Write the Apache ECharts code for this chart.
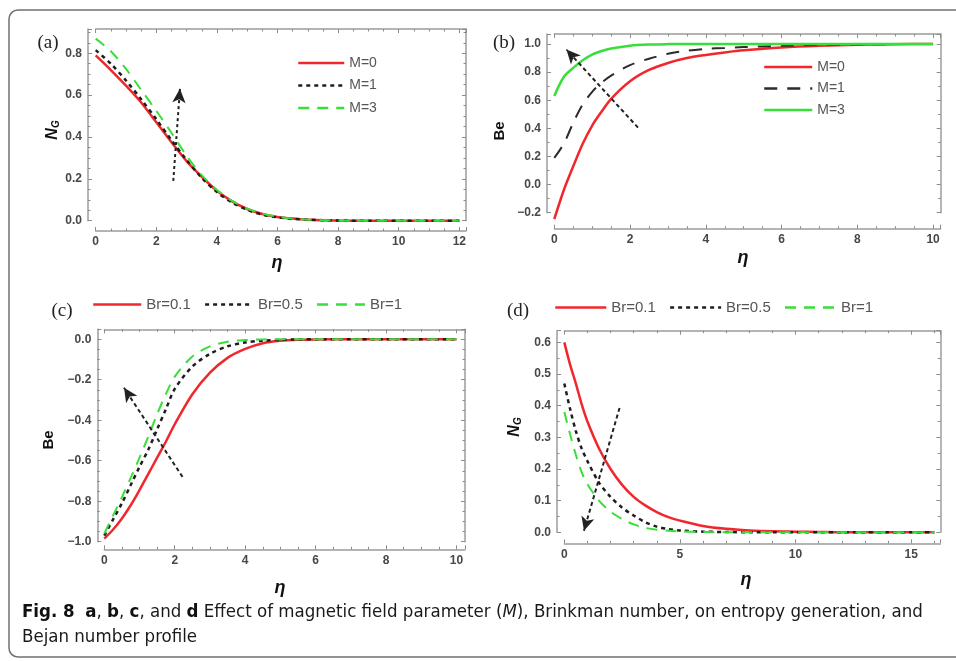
<!DOCTYPE html>
<html>
<head>
<meta charset="utf-8">
<script src="https://cdn.jsdelivr.net/npm/echarts@6/dist/echarts.min.js"></script>
<style>
html, body { margin: 0; padding: 0; background: #fff; }
#main { width: 956px; height: 661px; }
</style>
</head>
<body>
<div id="main"></div>
<script>
// ---- values ----
// (a) entropy generation N_G vs eta, M = 0, 1, 3
var etaA = [0, 0.5, 1, 1.5, 2, 2.5, 3, 3.5, 4, 4.5, 5, 5.5, 6, 6.5, 7, 8, 9, 10, 11, 12];
var ngM0 = [0.79, 0.72, 0.645, 0.565, 0.47, 0.375, 0.285, 0.21, 0.143, 0.092, 0.056, 0.032, 0.018, 0.01, 0.005, 0.001, 0, 0, 0, 0];
var ngM1 = [0.815, 0.75, 0.67, 0.58, 0.485, 0.385, 0.29, 0.205, 0.137, 0.087, 0.052, 0.029, 0.016, 0.009, 0.005, 0.001, 0, 0, 0, 0];
var ngM3 = [0.87, 0.81, 0.725, 0.625, 0.525, 0.42, 0.31, 0.218, 0.147, 0.095, 0.058, 0.034, 0.019, 0.01, 0.005, 0.001, 0, 0, 0, 0];

// (b) Bejan number vs eta, M = 0, 1, 3
var etaB = [0, 0.25, 0.5, 0.75, 1, 1.25, 1.5, 2, 2.5, 3, 3.5, 4, 4.5, 5, 6, 7, 8, 9, 10];
var beM0 = [-0.245, -0.04, 0.13, 0.29, 0.42, 0.52, 0.61, 0.735, 0.815, 0.865, 0.9, 0.922, 0.94, 0.955, 0.975, 0.987, 0.994, 0.998, 1.0];
var beM1 = [0.19, 0.29, 0.44, 0.57, 0.66, 0.725, 0.775, 0.85, 0.895, 0.93, 0.952, 0.965, 0.972, 0.978, 0.987, 0.993, 0.997, 0.999, 1.0];
var beM3 = [0.63, 0.765, 0.83, 0.885, 0.925, 0.95, 0.968, 0.988, 0.996, 0.999, 1, 1, 1, 1, 1, 1, 1, 1, 1];

// (c) Bejan number vs eta, Br = 0.1, 0.5, 1
var etaC = [0, 0.25, 0.5, 0.75, 1, 1.25, 1.5, 1.75, 2, 2.5, 3, 3.5, 4, 4.5, 5, 5.5, 6, 7, 8, 9, 10];
var beBr01 = [-0.985, -0.94, -0.885, -0.82, -0.745, -0.665, -0.585, -0.505, -0.42, -0.272, -0.165, -0.092, -0.048, -0.02, -0.008, -0.003, -0.001, 0, 0, 0, 0];
var beBr05 = [-0.97, -0.89, -0.81, -0.72, -0.63, -0.545, -0.445, -0.345, -0.245, -0.135, -0.072, -0.035, -0.016, -0.007, -0.003, -0.001, 0, 0, 0, 0, 0];
var beBr1 = [-0.96, -0.87, -0.78, -0.685, -0.585, -0.48, -0.37, -0.27, -0.185, -0.085, -0.035, -0.012, -0.004, -0.001, 0, 0, 0, 0, 0, 0, 0];

// (d) entropy generation N_G vs eta, Br = 0.1, 0.5, 1
var etaD = [0, 0.25, 0.5, 0.75, 1, 1.5, 2, 2.5, 3, 3.5, 4, 4.5, 5, 6, 7, 8, 9, 10, 11, 12, 13, 14, 15, 16];
var ngBr01 = [0.6, 0.53, 0.47, 0.405, 0.35, 0.265, 0.2, 0.15, 0.112, 0.085, 0.064, 0.048, 0.037, 0.02, 0.011, 0.006, 0.003, 0.002, 0.001, 0, 0, 0, 0, 0];
var ngBr05 = [0.47, 0.39, 0.32, 0.265, 0.225, 0.157, 0.112, 0.078, 0.053, 0.032, 0.018, 0.01, 0.006, 0.002, 0.001, 0, 0, 0, 0, 0, 0, 0, 0, 0];
var ngBr1 = [0.38, 0.31, 0.245, 0.19, 0.152, 0.1, 0.065, 0.042, 0.025, 0.014, 0.008, 0.005, 0.003, 0.001, 0, 0, 0, 0, 0, 0, 0, 0, 0, 0];

// trend arrows (start, end) in data units
var arrowA = [[2.56, 0.19], [2.78, 0.63]];
var arrowB = [[2.21, 0.405], [0.32, 0.96]];
var arrowC = [[2.22, -0.68], [0.56, -0.24]];
var arrowD = [[2.39, 0.393], [0.85, 0.005]];

var RED = '#f0282d', BLACK = '#1e1e1e', GREEN = '#3ade3a';
var SANS = "'Liberation Sans', Arial, sans-serif";
var CAP = '"Liberation Sans Narrow", "DejaVu Sans Condensed", sans-serif';

var tickLabel = { color: '#474747', fontSize: 12, fontWeight: 'bold', fontFamily: SANS };
var boxLine = { lineStyle: { color: '#9c9c9c', width: 1.5 }, onZero: false };
var boxTick = { inside: true, length: 4, lineStyle: { color: '#8c8c8c', width: 1 } };

function onStep(v, step) {
    var k = v / step;
    return Math.abs(k - Math.round(k)) < 1e-6;
}

// bottom + top x axes of one panel
function xPair(gi, max, step, minor, offset) {
    var base = {
        type: 'value', gridIndex: gi, min: 0, max: max, interval: step,
        splitLine: { show: false }, axisLine: boxLine, axisTick: boxTick,
        minorTick: { show: true, splitNumber: minor, length: 2.5, lineStyle: { color: '#8c8c8c' } }
    };
    var bottom = Object.assign({}, base, {
        position: 'bottom', offset: offset,
        axisLabel: Object.assign({ margin: 5, formatter: function (v) { return onStep(v, step) ? String(Math.round(v)) : ''; } }, tickLabel)
    });
    var top = Object.assign({}, base, { position: 'top', axisLabel: { show: false } });
    return [bottom, top];
}

// left + right y axes of one panel
function yPair(gi, min, max, step, minor, offset) {
    var base = {
        type: 'value', gridIndex: gi, min: min, max: max, interval: step,
        splitLine: { show: false }, axisLine: boxLine, axisTick: boxTick,
        minorTick: { show: true, splitNumber: minor, length: 2.5, lineStyle: { color: '#8c8c8c' } }
    };
    var left = Object.assign({}, base, {
        position: 'left', offset: offset,
        axisLabel: Object.assign({ margin: 6, formatter: function (v) {
            if (!onStep(v, step)) return '';
            var s = Math.abs(v).toFixed(1);
            return v < -1e-9 ? '\u2212' + s : s;
        } }, tickLabel)
    });
    var right = Object.assign({}, base, { position: 'right', axisLabel: { show: false } });
    return [left, right];
}

function curve(gi, name, eta, vals, color, dash, width) {
    return {
        type: 'line', name: name, xAxisIndex: 2 * gi, yAxisIndex: 2 * gi,
        data: eta.map(function (x, i) { return [x, vals[i]]; }),
        symbol: 'none', showSymbol: false, smooth: 0.3, clip: false,
        lineStyle: { color: color, type: dash, width: width },
        itemStyle: { color: color }, z: 3
    };
}

function arrow(gi, pts, dash) {
    return {
        type: 'line', name: 'arrow' + gi, xAxisIndex: 2 * gi, yAxisIndex: 2 * gi, data: [],
        markLine: {
            silent: true, animation: false, symbol: ['none', 'arrow'], symbolSize: [10, 14],
            label: { show: false },
            lineStyle: { color: '#222', type: dash, width: 2 },
            data: [[{ coord: pts[0] }, { coord: pts[1] }]]
        }
    };
}

function strip(name) { return name.split(':')[1]; }

// legend with line-only keys (the marker circle is made invisible)
function legendBox(names, orient, left, top, width, gap, size) {
    return {
        data: names, orient: orient, left: left, top: top, padding: 0,
        itemWidth: width, itemHeight: 14, itemGap: gap, formatter: strip,
        itemStyle: { opacity: 0 },
        lineStyle: { width: 2.5 },
        textStyle: { color: '#555', fontSize: size, fontFamily: SANS }
    };
}

function axisName(x, y, text, rich, rotate) {
    return {
        type: 'text', x: x, y: y, rotation: rotate ? Math.PI / 2 : 0,
        style: Object.assign({ text: text, fill: '#111', align: 'center', verticalAlign: 'middle' }, rich)
    };
}

var ngRich = {
    rich: {
        n: { fontSize: 16, fontWeight: 'bold', fontStyle: 'italic', fontFamily: SANS, fill: '#111', lineHeight: 18 },
        s: { fontSize: 10, fontWeight: 'bold', fontStyle: 'italic', fontFamily: SANS, fill: '#111', padding: [7, 0, 0, 0], lineHeight: 18 }
    }
};
var beFont = { font: 'bold 15px ' + SANS };
var etaFont = { font: 'italic bold 18px ' + SANS };
var panelFont = { font: '19px "Liberation Serif", "DejaVu Serif", serif', fill: '#222' };

var chart = echarts.init(document.getElementById('main'), null, { renderer: 'canvas' });

var option = {
    backgroundColor: '#fff',
    animation: false,
    grid: [
        { left: 95.7, right: 490, top: 29, bottom: 440.3, outerBoundsMode: 'none' },
        { left: 554.3, right: 15.3, top: 34, bottom: 448.3, outerBoundsMode: 'none' },
        { left: 104.3, right: 491, top: 329.3, bottom: 119.3, outerBoundsMode: 'none' },
        { left: 564.3, right: 15.7, top: 330.7, bottom: 128.7, outerBoundsMode: 'none' }
    ],
    xAxis: [].concat(
        xPair(0, 12.22, 2, 4, 10.3),
        xPair(1, 10.2, 2, 4, 16),
        xPair(2, 10.24, 2, 4, 7.6),
        xPair(3, 16.26, 5, 5, 11)
    ),
    yAxis: [].concat(
        yPair(0, 0, 0.916, 0.2, 4, 7.7),
        yPair(1, -0.2, 1.071, 0.2, 2, 7.3),
        yPair(2, -1, 0.049, 0.2, 4, 7),
        yPair(3, 0, 0.637, 0.1, 2, 7.3)
    ),
    legend: [
        legendBox(['a:M=0', 'a:M=1', 'a:M=3'], 'vertical', 297, 56, 46, 8.5, 14),
        legendBox(['b:M=0', 'b:M=1', 'b:M=3'], 'vertical', 763, 60, 48, 7.5, 14),
        legendBox(['c:Br=0.1', 'c:Br=0.5', 'c:Br=1'], 'horizontal', 92, 297, 48, 13, 15),
        legendBox(['d:Br=0.1', 'd:Br=0.5', 'd:Br=1'], 'horizontal', 554, 300, 51, 13, 15)
    ],
    series: [
        curve(0, 'a:M=0', etaA, ngM0, RED, 'solid', 2.5),
        curve(0, 'a:M=1', etaA, ngM1, BLACK, [4, 4], 2.5),
        curve(0, 'a:M=3', etaA, ngM3, GREEN, [11, 8], 2),
        arrow(0, arrowA, [3, 3]),

        curve(1, 'b:M=0', etaB, beM0, RED, 'solid', 2.5),
        curve(1, 'b:M=1', etaB, beM1, '#2b2b2b', [13, 10], 2),
        curve(1, 'b:M=3', etaB, beM3, GREEN, 'solid', 2.5),
        arrow(1, arrowB, [4, 3]),

        curve(2, 'c:Br=0.1', etaC, beBr01, RED, 'solid', 2.5),
        curve(2, 'c:Br=0.5', etaC, beBr05, BLACK, [4, 4], 2.5),
        curve(2, 'c:Br=1', etaC, beBr1, GREEN, [11, 8], 2),
        arrow(2, arrowC, [4, 3]),

        curve(3, 'd:Br=0.1', etaD, ngBr01, RED, 'solid', 2.5),
        curve(3, 'd:Br=0.5', etaD, ngBr05, BLACK, [4, 4], 2.5),
        curve(3, 'd:Br=1', etaD, ngBr1, GREEN, [11, 8], 2),
        arrow(3, arrowD, [4, 3])
    ],
    graphic: [
        { type: 'rect', shape: { x: 9, y: 10, width: 1000, height: 647, r: 9 },
          style: { fill: 'none', stroke: '#707070', lineWidth: 1.5 }, silent: true },

        axisName(53, 130, '{n|N}{s|G}', ngRich, true),
        axisName(500, 131, 'Be', beFont, true),
        axisName(49, 440, 'Be', beFont, true),
        axisName(515, 427, '{n|N}{s|G}', ngRich, true),

        axisName(277, 263, '\u03b7', etaFont, false),
        axisName(743, 258, '\u03b7', etaFont, false),
        axisName(280, 588, '\u03b7', etaFont, false),
        axisName(746, 580, '\u03b7', etaFont, false),

        axisName(48, 43, '(a)', panelFont, false),
        axisName(504, 43, '(b)', panelFont, false),
        axisName(62, 311, '(c)', panelFont, false),
        axisName(518, 311, '(d)', panelFont, false),

        {
            type: 'text', x: 22, y: 600,
            style: {
                text: '{b|Fig. 8}  {b|a}, {b|b}, {b|c}, and {b|d} Effect of magnetic field parameter ({i|M}), Brinkman number, on entropy generation, and\nBejan number profile',
                font: '18.5px ' + CAP,
                fill: '#1a1a1a', lineHeight: 25, align: 'left', verticalAlign: 'top',
                rich: {
                    b: { font: 'bold 18.5px ' + CAP, fill: '#111', lineHeight: 25 },
                    i: { font: 'italic 18.5px ' + CAP, fill: '#1a1a1a', lineHeight: 25 }
                }
            }
        }
    ]
};

chart.setOption(option);
</script>
</body>
</html>
